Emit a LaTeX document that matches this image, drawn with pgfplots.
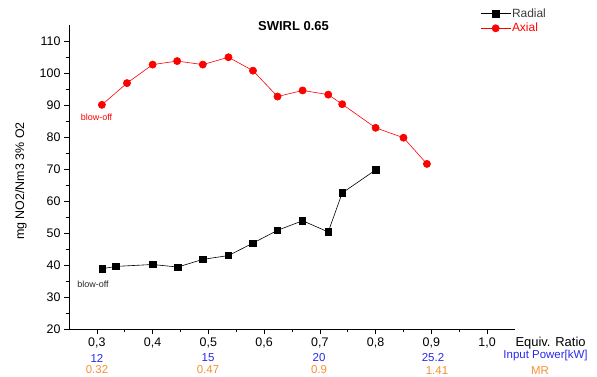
\documentclass[border=0pt]{standalone}
\usepackage{pgfplots}
\pgfplotsset{compat=1.18}
\usepackage{fontspec}
\setmainfont{Liberation Sans}
\definecolor{pblue}{RGB}{40,40,240}
\definecolor{porange}{RGB}{245,145,50}
\definecolor{dgray}{RGB}{60,60,60}
\begin{document}
\begin{tikzpicture}[x=1bp,y=1bp]
\useasboundingbox (0,0) rectangle (597,376);
\begin{axis}[
  at={(69bp,47bp)}, anchor=south west,
  scale only axis, width=446bp, height=304bp,
  xmin=0.25, xmax=1.05, ymin=20, ymax=115.2,
  axis x line*=bottom, axis y line*=left,
  axis line style={black, line width=0.8pt, -},
  xtick={0.3,0.4,...,1.0}, ytick={20,30,...,110},
  minor x tick num=1, minor y tick num=1,
  tick align=outside, major tick length=5bp, minor tick length=3bp,
  tick style={black, line width=0.7pt},
  xticklabel style={/pgf/number format/.cd, use comma, fixed, fixed zerofill, precision=1},
  /pgf/number format/assume math mode=true,
  tick label style={font=\fontsize{12.5}{13}\selectfont},
  xticklabel shift=0bp,
  yticklabel shift=0bp,
  clip=false,
  legend style={at={(rel axis cs:0.922,1.058)}, anchor=north west, draw=none, fill=none,
    font=\fontsize{12}{13}\selectfont, row sep=2.5bp, inner sep=0pt,
    nodes={inner sep=1bp}},
  legend cell align=left,
  legend image code/.code={\draw[#1] (0bp,0bp) -- (30bp,0bp); \draw[#1, mark repeat=1] plot coordinates {(15bp,0bp)};},
]
\addplot[color=black, line width=0.6pt, mark=square*, mark size=3.2bp, mark options={solid,fill=black}]
coordinates {
(0.310,38.9) (0.334,39.6) (0.400,40.2) (0.445,39.4) (0.490,41.8) (0.536,43.0)
(0.580,46.9) (0.624,50.9) (0.669,53.9) (0.715,50.4) (0.740,62.6) (0.800,69.8)
};
\addlegendentry{\textcolor{dgray}{Radial}}
\addplot[color=red, line width=0.6pt, mark=*, mark size=3.6bp, mark options={solid,fill=red}]
coordinates {
(0.309,90.2) (0.354,97.0) (0.400,102.8) (0.444,103.9) (0.490,102.8) (0.536,105.1)
(0.580,100.9) (0.624,92.8) (0.669,94.7) (0.715,93.4) (0.740,90.4) (0.800,83.0)
(0.850,79.9) (0.892,71.7)
};
\addlegendentry{\textcolor{red}{Axial}}
\end{axis}
% y label
\node[font=\fontsize{12.5}{13}\selectfont, rotate=90] at (21,195) {mg NO2/Nm3 3\% O2};
% title
\node[font=\bfseries\fontsize{13}{14}\selectfont] at (293.5,350) {SWIRL 0.65};
% blow-off labels
\node[font=\fontsize{9}{10}\selectfont, text=red] at (96.5,259) {blow-off};
\node[font=\fontsize{9}{10}\selectfont, text=black!85] at (93,92) {blow-off};
% axis title row
\node[font=\fontsize{13}{14}\selectfont, anchor=west] at (512,33) {Equiv. Ratio};
% input power row
\node[font=\fontsize{11.5}{12}\selectfont, text=pblue] at (97,18) {12};
\node[font=\fontsize{11.5}{12}\selectfont, text=pblue] at (208,18) {15};
\node[font=\fontsize{11.5}{12}\selectfont, text=pblue] at (319,18) {20};
\node[font=\fontsize{11.5}{12}\selectfont, text=pblue] at (433,18) {25.2};
\node[font=\fontsize{11.5}{12}\selectfont, text=pblue] at (545.5,20) {Input Power[kW]};
% MR row
\node[font=\fontsize{11.5}{12}\selectfont, text=porange] at (97,6) {0.32};
\node[font=\fontsize{11.5}{12}\selectfont, text=porange] at (208,6) {0.47};
\node[font=\fontsize{11.5}{12}\selectfont, text=porange] at (319,6) {0.9};
\node[font=\fontsize{11.5}{12}\selectfont, text=porange] at (437,5.5) {1.41};
\node[font=\fontsize{11.5}{12}\selectfont, text=porange] at (540,5) {MR};
\end{tikzpicture}
\end{document}
